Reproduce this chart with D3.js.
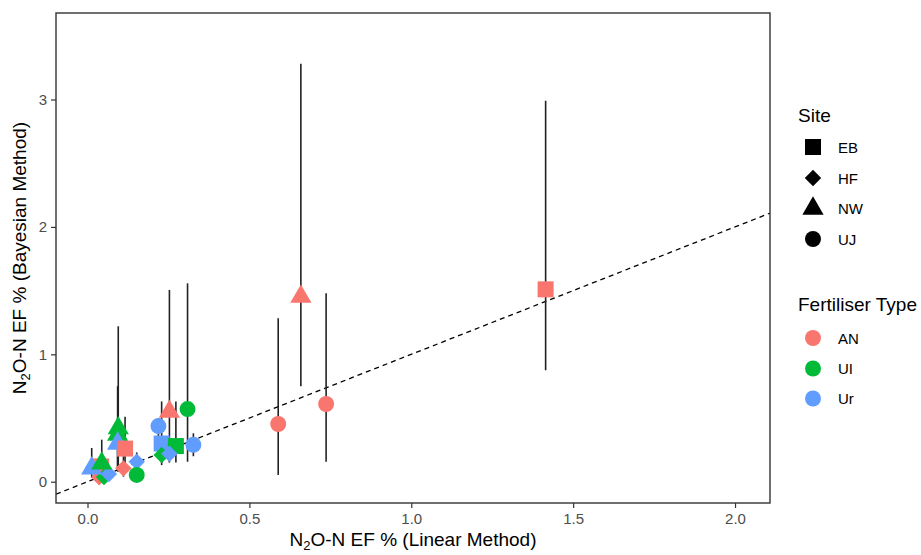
<!DOCTYPE html>
<html>
<head>
<meta charset="utf-8">
<script src="https://cdn.jsdelivr.net/npm/d3@7"></script>
<style>
  html, body { margin: 0; padding: 0; background: #fff; }
  svg { display: block; font-family: "Liberation Sans", Arial, sans-serif; }
</style>
</head>
<body>
<svg id="chart" width="921" height="555"></svg>
<script>
// ---- data ----
const site       = ["EB","HF","HF","HF","NW","NW","NW","NW","NW","EB","HF","HF","UJ","NW","UJ","UJ","EB","EB","HF","HF","UJ","UJ","NW","UJ","EB"];
const fertiliser = ["AN","AN","UI","Ur","Ur","UI","UI","UI","Ur","AN","AN","Ur","UI","AN","UI","Ur","Ur","UI","UI","Ur","Ur","AN","AN","AN","AN"];
const linearEF   = [0.042,0.036,0.051,0.066,0.013,0.044,0.095,0.093,0.093,0.116,0.111,0.152,0.152,0.253,0.309,0.219,0.229,0.273,0.229,0.253,0.327,0.589,0.659,0.737,1.415];
const bayesEF    = [0.120,0.035,0.037,0.060,0.105,0.144,0.420,0.370,0.300,0.260,0.105,0.157,0.053,0.550,0.570,0.437,0.300,0.280,0.210,0.220,0.290,0.453,1.452,0.610,1.510];
const bayesLow   = [0.050,0.010,0.010,0.020,0.030,0.050,0.080,0.100,0.080,0.080,0.040,0.080,0.020,0.150,0.157,0.350,0.130,0.150,0.150,0.160,0.200,0.053,0.750,0.157,0.875];
const bayesHigh  = [0.200,0.080,0.080,0.120,0.265,0.330,1.220,0.750,0.500,0.510,0.200,0.230,0.100,1.505,1.557,0.500,0.630,0.630,0.280,0.300,0.380,1.283,3.280,1.480,2.990];

const siteLevels = ["EB","HF","NW","UJ"];
const fertLevels = ["AN","UI","Ur"];
const fertColours = ["#F8766D","#00BA38","#619CFF"];
const xTicks = [0, 0.5, 1.0, 1.5, 2.0];
const yTicks = [0, 1, 2, 3];
const xDomain = [-0.0973, 2.108];
const yDomain = [-0.167, 3.679];

const svg = d3.select("#chart");
const panel = {left: 56, right: 770, top: 13, bottom: 503};

const x = d3.scaleLinear().domain(xDomain).range([panel.left, panel.right]);
const y = d3.scaleLinear().domain(yDomain).range([panel.bottom, panel.top]);
const colour = d3.scaleOrdinal().domain(fertLevels).range(fertColours);

const symbolType = {EB: d3.symbolSquare, HF: d3.symbolSquare, NW: d3.symbolTriangle, UJ: d3.symbolCircle};
const symbolSize = {EB: 256, HF: 135, NW: 195, UJ: 200};
const symbolRot  = {EB: 0, HF: 45, NW: 0, UJ: 0};

// clip
svg.append("defs").append("clipPath").attr("id", "clip")
  .append("rect").attr("x", panel.left).attr("y", panel.top)
  .attr("width", panel.right - panel.left).attr("height", panel.bottom - panel.top);

const g = svg.append("g").attr("clip-path", "url(#clip)");

// 1:1 dashed line
g.append("line")
  .attr("x1", x(xDomain[0])).attr("y1", y(xDomain[0]))
  .attr("x2", x(xDomain[1])).attr("y2", y(xDomain[1]))
  .attr("stroke", "#000").attr("stroke-width", 1.3).attr("stroke-dasharray", "5,4");

const idx = d3.range(linearEF.length);

// error bars
g.selectAll("line.err").data(idx).join("line").attr("class", "err")
  .attr("x1", i => x(linearEF[i])).attr("x2", i => x(linearEF[i]))
  .attr("y1", i => y(bayesLow[i])).attr("y2", i => y(bayesHigh[i]))
  .attr("stroke", "#222").attr("stroke-width", 1.6);

// points
g.selectAll("path.pt").data(idx).join("path").attr("class", "pt")
  .attr("d", i => d3.symbol().type(symbolType[site[i]]).size(symbolSize[site[i]])())
  .attr("transform", i => `translate(${x(linearEF[i])},${y(bayesEF[i])}) rotate(${symbolRot[site[i]]})`)
  .attr("fill", i => colour(fertiliser[i]));

// panel border
svg.append("rect")
  .attr("x", panel.left).attr("y", panel.top)
  .attr("width", panel.right - panel.left).attr("height", panel.bottom - panel.top)
  .attr("fill", "none").attr("stroke", "#333").attr("stroke-width", 1.4);

// axes
const xAxis = svg.append("g").attr("transform", `translate(0,${panel.bottom})`)
  .call(d3.axisBottom(x).tickValues(xTicks).tickFormat(d3.format(".1f")).tickSize(5).tickSizeOuter(0).tickPadding(5));
const yAxis = svg.append("g").attr("transform", `translate(${panel.left},0)`)
  .call(d3.axisLeft(y).tickValues(yTicks).tickFormat(d3.format("d")).tickSize(5).tickSizeOuter(0).tickPadding(4));
[xAxis, yAxis].forEach(a => {
  a.select(".domain").remove();
  a.selectAll(".tick line").attr("stroke", "#333").attr("stroke-width", 1.2);
  a.selectAll(".tick text").attr("fill", "#4D4D4D").style("font-size", "15px")
    .style("font-family", "'Liberation Sans', Arial, sans-serif");
});

// axis titles with subscript
function title(sel, rest) {
  sel.append("tspan").text("N");
  sel.append("tspan").text("2").style("font-size", "13px").attr("dy", 4);
  sel.append("tspan").text("O-N EF % " + rest).attr("dy", -4);
}
const xt = svg.append("text").attr("x", (panel.left + panel.right) / 2).attr("y", 546)
  .attr("text-anchor", "middle").style("font-size", "19px").attr("fill", "#000");
title(xt, "(Linear Method)");
const yt = svg.append("text").attr("transform", `translate(26,${(panel.top + panel.bottom) / 2}) rotate(-90)`)
  .attr("text-anchor", "middle").style("font-size", "19px").attr("fill", "#000");
title(yt, "(Bayesian Method)");

// legends
const lg = svg.append("g");
lg.append("text").attr("x", 798).attr("y", 122).text("Site").style("font-size", "19px");
const siteKeyY = [147, 178, 208.5, 239];
siteLevels.forEach((s, k) => {
  lg.append("path")
    .attr("d", d3.symbol().type(symbolType[s]).size(symbolSize[s])())
    .attr("transform", `translate(813,${siteKeyY[k]}) rotate(${symbolRot[s]})`)
    .attr("fill", "#000");
  lg.append("text").attr("x", 838).attr("y", siteKeyY[k] + 5.5).text(s).style("font-size", "15px");
});
lg.append("text").attr("x", 798).attr("y", 311).text("Fertiliser Type").style("font-size", "19px");
const fertKeyY = [338, 368.5, 398.5];
fertLevels.forEach((f, k) => {
  lg.append("path")
    .attr("d", d3.symbol().type(d3.symbolCircle).size(200)())
    .attr("transform", `translate(813,${fertKeyY[k]})`)
    .attr("fill", colour(f));
  lg.append("text").attr("x", 838).attr("y", fertKeyY[k] + 5.5).text(f).style("font-size", "15px");
});
</script>
</body>
</html>
